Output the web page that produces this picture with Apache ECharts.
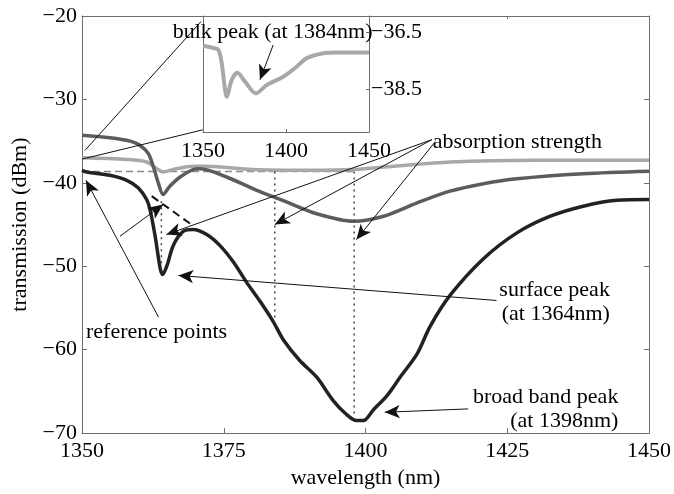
<!DOCTYPE html>
<html><head><meta charset="utf-8">
<script src="https://cdn.jsdelivr.net/npm/echarts@6/dist/echarts.min.js"></script>
<style>html,body{margin:0;padding:0;background:#fff}#c{width:674px;height:494px}</style>
</head><body><div id="c"></div>
<script>
// ---- data ----
const xTicks = [1350, 1375, 1400, 1425, 1450];
const yTicks = [-70, -60, -50, -40, -30, -20];
const insetXTicks = [1350, 1400, 1450];
const insetYTicks = [-38.5, -36.5];

const blackCurve = [
  [1350,-38.5],[1350.8,-38.7],[1354.9,-39.1],[1357.9,-39.7],[1359.9,-40.6],[1361.4,-42.0],
  [1362,-43.2],[1362.9,-46.4],[1363.8,-50.3],[1364.2,-51.0],[1365,-49.9],[1366.1,-47.5],
  [1367.9,-45.8],[1369.6,-45.6],[1372,-46.2],[1374.3,-47.5],[1376.7,-49.5],[1379,-51.9],
  [1381.4,-54.2],[1383.7,-56.6],[1385.5,-58.8],[1388.4,-61.3],[1391.4,-63.3],[1394.3,-66.1],
  [1396.7,-67.8],[1398.4,-68.5],[1399.6,-68.5],[1401.4,-67.2],[1403.8,-65.5],[1406.1,-63.3],
  [1409.1,-60.5],[1411.4,-57.2],[1414.9,-53.5],[1420.8,-49.1],[1426.7,-46.0],[1432.6,-44.0],
  [1438.4,-42.8],[1444.3,-42.1],[1450,-42.0]
];
const darkGrayCurve = [
  [1350,-34.3],[1354.9,-34.6],[1358.5,-35.0],[1360.2,-35.5],[1361.7,-36.5],[1362.6,-38.1],
  [1363.5,-40.1],[1364.3,-41.4],[1365.5,-40.4],[1367.3,-39.3],[1369.6,-38.4],[1370.8,-38.3],
  [1375.5,-39.3],[1380.5,-40.8],[1385.4,-42.1],[1391.4,-43.7],[1397.9,-44.6],[1403.2,-44.0],
  [1409.1,-42.4],[1414.9,-41.0],[1420.8,-40.1],[1426.7,-39.5],[1438.4,-38.9],[1450,-38.6]
];
const lightGrayCurve = [
  [1350,-37.0],[1357.9,-37.2],[1361.4,-37.5],[1363.2,-38.3],[1364.3,-38.7],[1366.1,-38.4],
  [1369.6,-38.0],[1372,-38.0],[1380,-38.4],[1390,-38.5],[1398,-38.4],[1405,-38.0],
  [1415,-37.5],[1430,-37.3],[1450,-37.3]
];
const insetCurve = [
  [1350.2,-36.99],[1355,-37.05],[1359.2,-37.13],[1361.3,-37.6],[1363,-38.4],[1364.3,-38.77],
  [1367.3,-38.18],[1370.7,-37.93],[1375.3,-38.24],[1381.9,-38.65],[1388.4,-38.36],[1398.4,-38.07],
  [1406.4,-37.72],[1412.5,-37.42],[1422.5,-37.25],[1430.5,-37.22],[1450,-37.22]
];
// reference construction lines
const baselineRef = [[1350,-38.65],[1398.5,-38.65]];
const surfaceDiag = [[1362.3,-41.6],[1369.3,-45.0]];
const dropAt1364 = [[1364,-42.2],[1364,-50.8]];
const dropAt1384 = [[1384,-38.65],[1384,-56.5]];
const dropAt1398 = [[1398,-38.65],[1398,-67.8]];

// annotation arrows [start, tip] in data coordinates
const arrowsMain = [
  [[1411.7,-34.83],[1364.9,-46.2]],
  [[1411.7,-34.83],[1384.0,-45.0]],
  [[1412.3,-35.07],[1398.4,-46.8]],
  [[1363.5,-56.1],[1350.7,-39.7]],
  [[1356.7,-46.4],[1364.3,-42.6]],
  [[1423.1,-54.1],[1367.0,-51.1]],
  [[1418.1,-67.1],[1403.4,-67.5]]
];
const plainLinesMain = [
  [[1350.5,-36.13],[1371.0,-20.65]],
  [[1350.0,-37.16],[1371.3,-33.65]]
];
const arrowsInset = [
  [[1392.3,-36.96],[1384.3,-38.18]]
];
const textsMain = [
  {text:'bulk peak (at 1384nm)', at:[1366.0,-21.95], align:'left'},
  {text:'absorption strength', at:[1411.85,-35.19], align:'left'},
  {text:'surface peak\n(at 1364nm)', at:[1443.1,-54.28], align:'right'},
  {text:'broad band peak\n(at 1398nm)', at:[1444.6,-67.16], align:'right'},
  {text:'reference points', at:[1350.7,-57.85], align:'left'}
];

// ---- chart ----
const FONT = 'Liberation Serif';
const AX = '#6e6e6e';
const TXT = '#000';
const fmt = v => (v < 0 ? '\u2212' + Math.abs(v) : String(v));

function boxAxis(extra) {
  return Object.assign({
    type: 'value', axisLine: {show: true, onZero: false, lineStyle: {color: AX, width: 1}},
    axisTick: {show: true, inside: true, length: 5, lineStyle: {color: AX}},
    axisLabel: {show: false}, splitLine: {show: false}
  }, extra);
}

function arrowMarks(list, withArrow) {
  return list.map(p => [
    {coord: p[0], symbol: 'none'},
    {coord: p[1], symbol: withArrow ? 'arrow' : 'none', symbolSize: [10, 15]}
  ]);
}

const chart = echarts.init(document.getElementById('c'), null, {renderer: 'canvas'});
const mainX = {min: xTicks[0], max: xTicks[xTicks.length - 1], interval: xTicks[1] - xTicks[0]};
const mainY = {min: yTicks[0], max: yTicks[yTicks.length - 1], interval: yTicks[1] - yTicks[0]};
const curveLine = (name, data, color, width, xi, yi, z) => ({
  type: 'line', name, xAxisIndex: xi, yAxisIndex: yi, data, symbol: 'none',
  smooth: 0.3, lineStyle: {color, width}, z
});

chart.setOption({
  animation: false,
  backgroundColor: '#fff',
  textStyle: {fontFamily: FONT},
  grid: [
    {left: 82, right: 25, top: 16, bottom: 54, containLabel: false},
    {left: 203, top: 16, width: 166, height: 116, show: true, backgroundColor: '#fff', borderWidth: 0, z: 5}
  ],
  xAxis: [
    boxAxis(Object.assign({gridIndex: 0, position: 'bottom',
      axisLabel: {show: true, fontSize: 22, margin: 7, color: TXT, fontFamily: FONT, formatter: fmt},
      name: 'wavelength (nm)', nameLocation: 'middle', nameGap: 31,
      nameTextStyle: {fontSize: 22, color: TXT, fontFamily: FONT}}, mainX)),
    boxAxis(Object.assign({gridIndex: 0, position: 'top', axisTick: {show: true, inside: true, length: 3, lineStyle: {color: AX}}}, mainX)),
    boxAxis({gridIndex: 1, position: 'bottom', min: insetXTicks[0], max: insetXTicks[2], interval: insetXTicks[1] - insetXTicks[0], z: 6,
      axisTick: {show: true, inside: true, length: 3, lineStyle: {color: AX}},
      axisLabel: {show: true, fontSize: 22, margin: 8, color: TXT, fontFamily: FONT, formatter: fmt}}),
    boxAxis({gridIndex: 1, position: 'top', min: insetXTicks[0], max: insetXTicks[2], interval: insetXTicks[1] - insetXTicks[0], z: 6,
      axisTick: {show: false}})
  ],
  yAxis: [
    boxAxis(Object.assign({gridIndex: 0, position: 'left',
      axisLabel: {show: true, fontSize: 22, margin: 5, color: TXT, fontFamily: FONT, formatter: fmt},
      name: 'transmission (dBm)', nameLocation: 'middle', nameGap: 44, nameRotate: 90,
      nameTextStyle: {fontSize: 22, color: TXT, fontFamily: FONT}}, mainY)),
    boxAxis(Object.assign({gridIndex: 0, position: 'right'}, mainY)),
    boxAxis({gridIndex: 1, position: 'right', min: -40, max: -35.95, z: 6,
      axisTick: {show: true, inside: true, length: 3, lineStyle: {color: AX}, customValues: insetYTicks},
      axisLabel: {show: true, fontSize: 22, margin: 2, color: TXT, fontFamily: FONT, formatter: fmt, customValues: insetYTicks}}),
    boxAxis({gridIndex: 1, position: 'left', min: -40, max: -35.95, z: 6,
      axisTick: {show: false}})
  ],
  series: [
    {type: 'line', name: 'baseline', xAxisIndex: 0, yAxisIndex: 0, data: baselineRef, symbol: 'none', silent: true,
      lineStyle: {color: '#8a8a8a', width: 1.5, type: [7, 4]}, z: 1},
    curveLine('light', lightGrayCurve, '#a8a8a8', 3.5, 0, 0, 2),
    curveLine('dark', darkGrayCurve, '#5c5c5c', 3.5, 0, 0, 3),
    curveLine('black', blackCurve, '#222', 3.5, 0, 0, 4),
    {type: 'line', name: 'diag', xAxisIndex: 0, yAxisIndex: 0, data: surfaceDiag, symbol: 'none', silent: true,
      lineStyle: {color: '#111', width: 2, type: [8, 5]}, z: 5},
    {type: 'line', name: 'd1364', xAxisIndex: 0, yAxisIndex: 0, data: dropAt1364, symbol: 'none', silent: true,
      lineStyle: {color: '#444', width: 1.5, type: [2, 4]}, z: 5},
    {type: 'line', name: 'd1384', xAxisIndex: 0, yAxisIndex: 0, data: dropAt1384, symbol: 'none', silent: true,
      lineStyle: {color: '#444', width: 1.5, type: [2, 4]}, z: 5},
    {type: 'line', name: 'd1398', xAxisIndex: 0, yAxisIndex: 0, data: dropAt1398, symbol: 'none', silent: true,
      lineStyle: {color: '#444', width: 1.5, type: [2, 4]}, z: 5,
      markLine: {silent: true, animation: false, label: {show: false},
        lineStyle: {color: '#111', width: 1, type: 'solid'},
        data: arrowMarks(arrowsMain, true).concat(arrowMarks(plainLinesMain, false))}},
    Object.assign(curveLine('inset', insetCurve, '#a8a8a8', 4, 2, 2, 7), {
      markLine: {silent: true, animation: false, label: {show: false}, z: 8,
        lineStyle: {color: '#111', width: 1, type: 'solid'},
        data: arrowMarks(arrowsInset, true)}})
  ]
});

// text annotations placed through the main axes' scales
chart.setOption({
  graphic: textsMain.map(t => {
    const p = chart.convertToPixel({xAxisIndex: 0, yAxisIndex: 0}, t.at);
    return {type: 'text', x: p[0], y: p[1], z: 100, silent: true,
      style: {text: t.text, fill: TXT, font: '22px "' + FONT + '"', lineHeight: 24,
        align: t.align, verticalAlign: 'middle'}};
  })
});
</script>
</body></html>
